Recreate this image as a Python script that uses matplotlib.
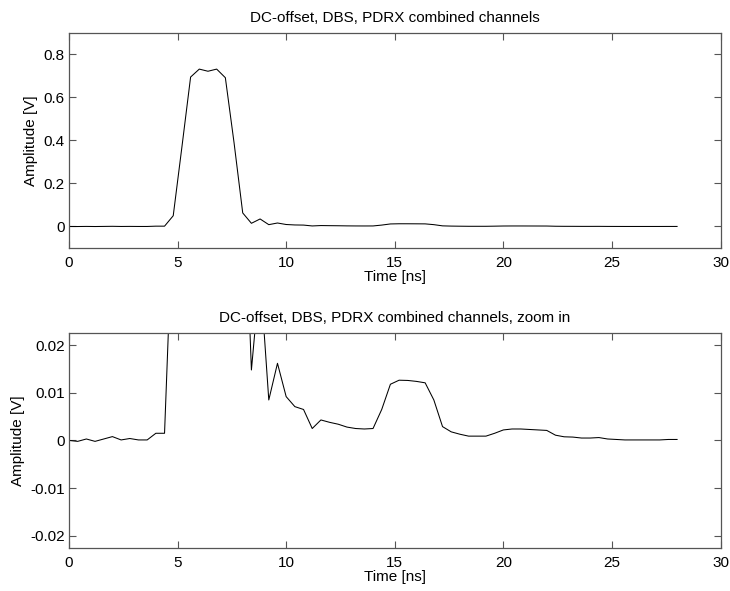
import matplotlib
matplotlib.use("Agg")
import matplotlib.pyplot as plt

plt.rcParams["font.family"] = ["Liberation Sans", "DejaVu Sans"]
plt.rcParams["axes.unicode_minus"] = False

# sample times [ns], 0.4 ns apart
time_ns = [
    0.0, 0.4, 0.8, 1.2, 1.6, 2.0, 2.4, 2.8, 3.2, 3.6,
    4.0, 4.4, 4.8, 5.2, 5.6, 6.0, 6.4, 6.8, 7.2, 7.6,
    8.0, 8.4, 8.8, 9.2, 9.6, 10.0, 10.4, 10.8, 11.2, 11.6,
    12.0, 12.4, 12.8, 13.2, 13.6, 14.0, 14.4, 14.8, 15.2, 15.6,
    16.0, 16.4, 16.8, 17.2, 17.6, 18.0, 18.4, 18.8, 19.2, 19.6,
    20.0, 20.4, 20.8, 21.2, 21.6, 22.0, 22.4, 22.8, 23.2, 23.6,
    24.0, 24.4, 24.8, 25.2, 25.6, 26.0, 26.4, 26.8, 27.2, 27.6,
    28.0,
]

# combined channel amplitude [V]
amplitude_v = [
    0.0, -0.0002, 0.0003, -0.0002, 0.0003, 0.0008, 0.0001, 0.0004, 0.0001, 0.0001,
    0.0015, 0.0015, 0.050, 0.37, 0.695, 0.732, 0.722, 0.732, 0.692, 0.39,
    0.063, 0.0148, 0.035, 0.0085, 0.0162, 0.0092, 0.0071, 0.0065, 0.0025, 0.0043,
    0.0038, 0.0034, 0.0028, 0.0025, 0.0024, 0.0025, 0.0065, 0.0118, 0.01265, 0.0126,
    0.0124, 0.0121, 0.0085, 0.0029, 0.0018, 0.0013, 0.0009, 0.0009, 0.0009, 0.0015,
    0.0022, 0.0024, 0.0024, 0.0023, 0.0022, 0.0021, 0.0011, 0.00076, 0.0007, 0.0005,
    0.0005, 0.0006, 0.0003, 0.0002, 0.0001, 0.0001, 0.0001, 0.0001, 0.0001, 0.0002,
    0.0002,
]

x_ticks = [0, 5, 10, 15, 20, 25, 30]
top_yticks = [0, 0.2, 0.4, 0.6, 0.8]
top_ylabels = ["0", "0.2", "0.4", "0.6", "0.8"]
zoom_yticks = [-0.02, -0.01, 0, 0.01, 0.02]
zoom_ylabels = ["-0.02", "-0.01", "0", "0.01", "0.02"]

FS = 11


def style_axes(ax):
    for sp in ax.spines.values():
        sp.set_color("#555555")
        sp.set_linewidth(0.9)
    ax.tick_params(direction="in", length=4.7, width=0.8, color="#555555",
                   top=True, right=True, labelsize=FS)
    ax.tick_params(axis="x", pad=5.5)
    ax.tick_params(axis="y", pad=3)
    ax.set_xlim(0, 30)
    ax.set_xticks(x_ticks)
    ax.set_xlabel("Time [ns]", fontsize=FS, labelpad=0)
    ax.set_ylabel("Amplitude [V]", fontsize=FS, labelpad=4)


fig = plt.figure(figsize=(7.3, 5.91), dpi=100)

# right edge pulled in a hair so the "30" label is not clipped
ax1 = fig.add_axes([0.0945, 0.5804, 0.8925, 0.3638])
ax1.plot(time_ns, amplitude_v, color="black", linewidth=0.75)
style_axes(ax1)
ax1.set_ylim(-0.1, 0.9)
ax1.set_yticks(top_yticks)
ax1.set_yticklabels(top_ylabels)
ax1.set_title("DC-offset, DBS, PDRX combined channels", fontsize=FS, pad=8)

ax2 = fig.add_axes([0.0945, 0.0728, 0.8925, 0.364])
ax2.plot(time_ns, amplitude_v, color="black", linewidth=0.75)
style_axes(ax2)
ax2.set_ylim(-0.0226, 0.0226)
ax2.set_yticks(zoom_yticks)
ax2.set_yticklabels(zoom_ylabels)
ax2.set_title("DC-offset, DBS, PDRX combined channels, zoom in", fontsize=FS, pad=8)

fig.savefig("out.png", dpi=100)
